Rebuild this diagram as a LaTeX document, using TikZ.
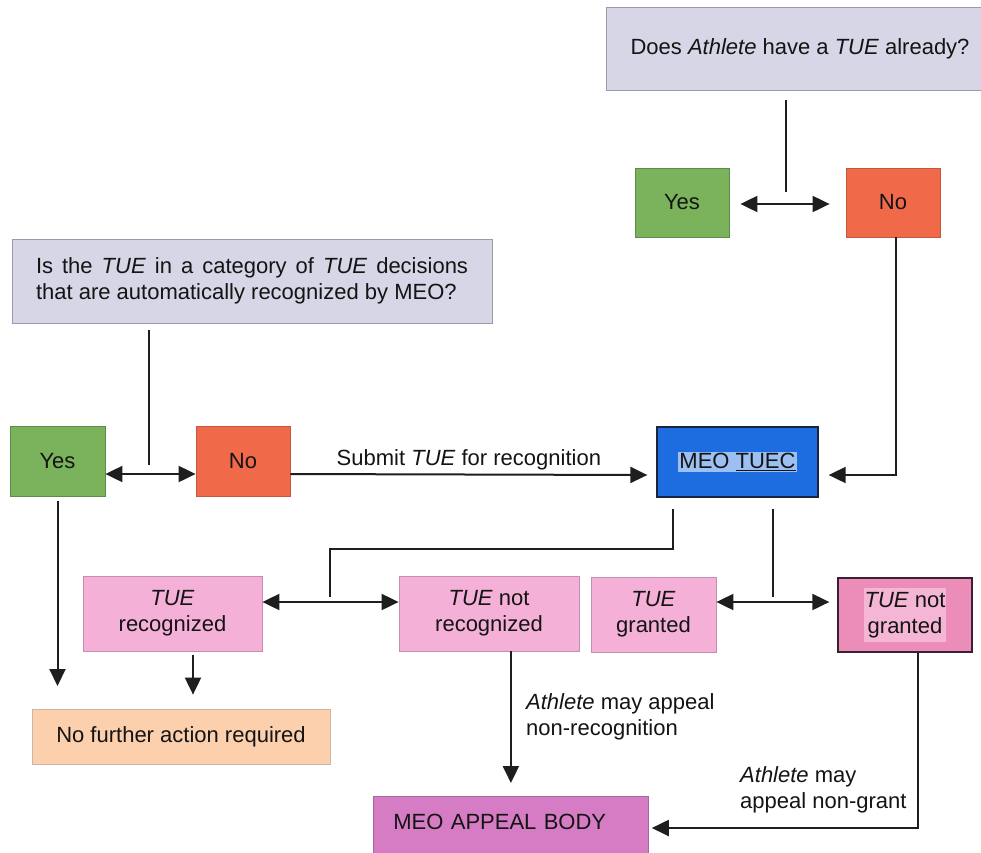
\documentclass[tikz,border=0pt]{standalone}
\usepackage{fontspec}
\setmainfont{Liberation Sans}
\usetikzlibrary{arrows.meta,calc}
\definecolor{txt}{HTML}{141414}
\definecolor{linec}{HTML}{1E1E1E}
\definecolor{qfill}{HTML}{D6D6E6}
\definecolor{qdraw}{HTML}{9A9AAA}
\definecolor{gfill}{HTML}{7AB35B}
\definecolor{gdraw}{HTML}{5E8C48}
\definecolor{rfill}{HTML}{F06A4A}
\definecolor{rdraw}{HTML}{C4583E}
\definecolor{bfill}{HTML}{1D6CE0}
\definecolor{bdraw}{HTML}{1A2440}
\definecolor{hlb}{HTML}{9CC0F2}
\definecolor{pfill}{HTML}{F5B0D8}
\definecolor{pdraw}{HTML}{C48EAE}
\definecolor{ngfill}{HTML}{EC8CB8}
\definecolor{ngdraw}{HTML}{3A2030}
\definecolor{hlp}{HTML}{F5B6D6}
\definecolor{peach}{HTML}{FCCFAD}
\definecolor{peachd}{HTML}{CDB4A4}
\definecolor{mag}{HTML}{D67CC4}
\definecolor{magd}{HTML}{A8669E}
\setlength{\fboxsep}{1pt}
\begin{document}
\begin{tikzpicture}[x=1pt,y=-1pt,
  box/.style={draw, line width=0.8pt, inner sep=0pt, align=center, text=txt,
    font=\fontsize{22}{26}\selectfont},
  lbl/.style={inner sep=4pt, align=left, text=txt, font=\fontsize{22}{26}\selectfont},
  conn/.style={line width=2pt, draw=linec},
  arr/.style={conn, -{Triangle[length=17pt,width=16pt]}},
  dbl/.style={conn, {Triangle[length=17pt,width=16pt]}-{Triangle[length=17pt,width=16pt]}}
]
\useasboundingbox (0,0) rectangle (981,852);
\fill[white] (0,0) rectangle (981,852);

% nodes
\node[box, fill=qfill, draw=qdraw, minimum width=388pt, minimum height=83pt] (q1) at (800,48.5)
  {Does \textit{Athlete} have a \textit{TUE} already?};
\node[box, fill=gfill, draw=gdraw, minimum width=94pt, minimum height=69pt] (yesT) at (682,202.5) {Yes};
\node[box, fill=rfill, draw=rdraw, minimum width=94pt, minimum height=69pt] (noT) at (893,202.5) {No};

\node[box, fill=qfill, draw=qdraw, minimum width=480pt, minimum height=84pt, align=left] (q2) at (252,281)
  {\makebox[432pt][s]{Is the \textit{TUE} in a category of \textit{TUE} decisions}\\that are automatically recognized by MEO?};
\node[box, fill=gfill, draw=gdraw, minimum width=95pt, minimum height=70pt] (yesL) at (57.5,461) {Yes};
\node[box, fill=rfill, draw=rdraw, minimum width=94pt, minimum height=70pt] (noL) at (243,461) {No};
\node[box, fill=bfill, draw=bdraw, line width=1.3pt, minimum width=161pt, minimum height=70pt] (tuec) at (737.5,462)
  {\colorbox{hlb}{MEO \underline{TUEC}}};

\node[box, fill=pfill, draw=pdraw, minimum width=179pt, minimum height=75pt] (rec) at (172.5,613.5)
  {\textit{TUE}\\recognized};
\node[box, fill=pfill, draw=pdraw, minimum width=180pt, minimum height=75pt] (nrec) at (489,613.5)
  {\textit{TUE} not\\recognized};
\node[box, fill=pfill, draw=pdraw, minimum width=125pt, minimum height=75pt] (gr) at (653.5,614.5)
  {\textit{TUE}\\granted};
\node[box, fill=ngfill, draw=ngdraw, line width=1.3pt, minimum width=134pt, minimum height=74pt] (ngr) at (905,615)
  {\colorbox{hlp}{\begin{tabular}{@{}c@{}}\textit{TUE} not\\granted\end{tabular}}};

\node[box, fill=peach, draw=peachd, minimum width=298pt, minimum height=55pt] (nfa) at (181,736.5)
  {No further action required};
\node[box, fill=mag, draw=magd, anchor=north west, minimum width=275pt, minimum height=62pt,
  text width=235pt, inner xsep=20pt, align=left, text depth=12pt] (appeal) at (373,796) {MEO APPEAL BODY};

\node[lbl, anchor=west] (lab1) at (522,716.5) {\textit{Athlete} may appeal\\non-recognition};
\node[lbl, anchor=west] (lab2) at (736,790) {\textit{Athlete} may\\appeal non-grant};

% connectors
\coordinate (jT) at (786,192);
\draw[conn] ([yshift=-10pt]q1.south -| jT) -- (jT);
\draw[dbl] ([xshift=11pt,yshift=-1.5pt]yesT.east) -- ([xshift=-16pt,yshift=-1.5pt]noT.west);

\coordinate (cN) at (896,475);
\draw[arr] (noT.south -| cN) -- (cN) -- ([xshift=10pt]tuec.east |- cN);

\coordinate (jL) at (149,465);
\draw[conn] ([yshift=-7pt]q2.south -| jL) -- (jL);
\draw[dbl] ([yshift=-13pt]yesL.east) -- ([yshift=-13pt]noL.west);
\draw[arr] ([yshift=-13pt]noL.east) -- node[midway, above=3pt, lbl, inner sep=0pt]{Submit \textit{TUE} for recognition}
  ([xshift=-9pt,yshift=-13pt]tuec.west);

\coordinate (jR1) at (330,597);
\draw[conn] ([xshift=-64.5pt,yshift=-11pt]tuec.south) -- ++(0,40) -| (jR1);
\draw[dbl] ([yshift=11.5pt]rec.east) -- ([yshift=11.5pt]nrec.west);

\coordinate (jR2) at (773,597);
\draw[conn] ([xshift=35.5pt,yshift=-11pt]tuec.south) -- (jR2);
\draw[dbl] ([yshift=12.5pt]gr.east) -- ([xshift=-8pt,yshift=13pt]ngr.west);

\coordinate (e1) at (57.5,686);
\draw[arr] ([yshift=-5pt]yesL.south) -- (e1);
\draw[arr] ([xshift=20.5pt,yshift=-4pt]rec.south) -- ([xshift=12pt,yshift=14pt]nfa.north);
\draw[arr] (nrec.south -| appeal.north) -- ([yshift=13pt]appeal.north);

\coordinate (cG) at (918,828);
\draw[arr] (ngr.south -| cG) -- (cG) -- ([xshift=3pt]appeal.east |- cG);
\end{tikzpicture}
\end{document}
